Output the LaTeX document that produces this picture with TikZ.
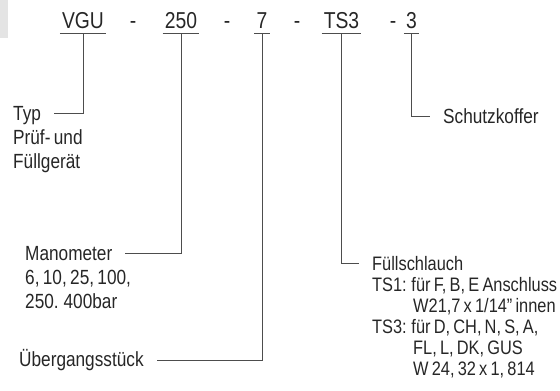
\documentclass[tikz,border=0pt]{standalone}
\usepackage{fontspec}
\setmainfont[FakeStretch=0.84,WordSpace=0.7]{Liberation Sans}
\usetikzlibrary{positioning}
\definecolor{ink}{HTML}{262626}
\definecolor{rule}{HTML}{4D4D4D}
\definecolor{edgegray}{HTML}{E4E4E4}
\tikzset{code/.style={font=\fontsize{23}{26}\selectfont,text=ink,inner xsep=2pt,inner ysep=5.5pt,text depth=0pt,anchor=base},
  dashsym/.style={code,inner xsep=0pt},
  head/.style={font=\fontsize{20.5}{24}\selectfont,text=ink,inner sep=0pt,text height=13pt,text depth=0pt,anchor=base west},
  desc/.style={font=\fontsize{20.5}{24}\selectfont,text=ink,inner sep=0pt,align=left,anchor=base west},
  rhead/.style={font=\fontsize{19.5}{21}\selectfont},
  rdesc/.style={font=\fontsize{19.5}{20.8}\selectfont},
  lead/.style={draw=rule,line width=0.9pt,shorten >=13pt}}
\begin{document}
\begin{tikzpicture}[x=1pt,y=-1pt]
\useasboundingbox (0,0) rectangle (560,391);
\fill[edgegray] (0,0) rectangle (8,38);
% Typenschluessel
\node[code] (vgu) at (83,28) {VGU};
\node[dashsym] (d1) at (133,28) {-};
\node[code] (p250) at (181,28) {250};
\node[dashsym] (d2) at (227,28) {-};
\node[code] (p7) at (262,28) {7};
\node[dashsym] (d3) at (297,28) {-};
\node[code] (ts3) at (341.5,28) {TS3};
\node[dashsym] (d4) at (393,28) {-};
\node[code] (p3) at (411.5,28) {3};
\foreach \c in {vgu,p250,p7,ts3,p3}
  \draw[rule,line width=0.9pt] (\c.south west) -- (\c.south east);
% Beschriftungen links (base = letzte Zeile)
\node[head] (typ) at (13,120) {Typ};
\node[desc] (typdesc) at (13,168) {Prüf- und\\Füllgerät};
\node[head] (mano) at (25,260) {Manometer};
\node[desc] (manodesc) at (25,308) {6, 10, 25, 100,\\250. 400bar};
\node[head] (ueber) at (19,366.5) {Übergangsstück};
% Beschriftungen rechts
\node[head] (schutz) at (443,123) {Schutzkoffer};
\node[head,rhead] (fuell) at (372,270) {Füllschlauch};
\node[desc,rdesc] (fuelldesc) at (372,375) {TS1: für F, B, E Anschluss\\\hspace*{41pt}W21,7 x 1/14” innen\\TS3: für D, CH, N, S, A,\\\hspace*{41pt}FL, L, DK, GUS\\\hspace*{41pt}W 24, 32 x 1, 814};
% Verbindungen
\draw[lead] (vgu.south) |- (typ.east);
\draw[lead] (p250.south) |- (mano.east);
\draw[lead] (p7.south) |- (ueber.east);
\draw[lead] (ts3.south) |- (fuell.west);
\draw[lead] (p3.south) |- (schutz.west);
\end{tikzpicture}
\end{document}
